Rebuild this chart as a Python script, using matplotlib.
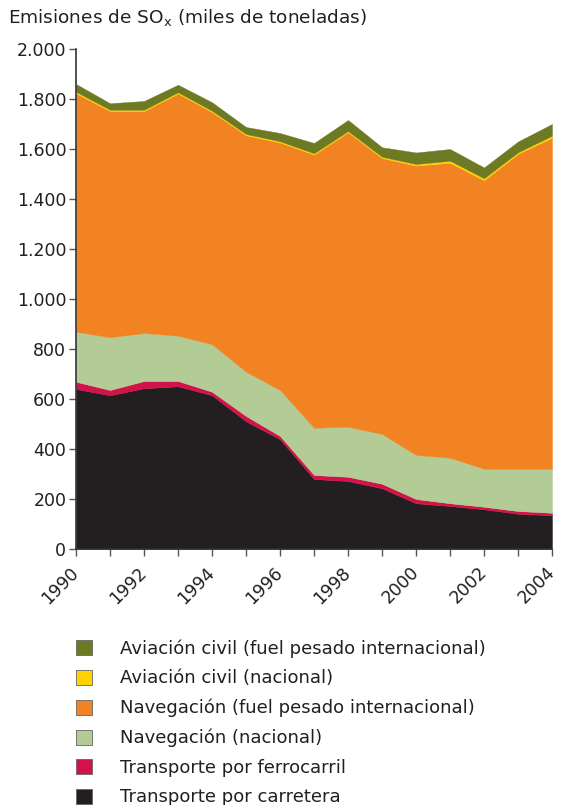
import numpy as np
import matplotlib
matplotlib.use('Agg')
import matplotlib.pyplot as plt
from matplotlib.patches import Patch
from matplotlib.ticker import FuncFormatter

# Emisiones de SOx del transporte, miles de toneladas
years = np.arange(1990, 2005)
carretera = [640, 615, 643, 651, 615, 511, 439, 280, 272, 243, 183, 172, 159, 141, 135]
ferrocarril = [29, 21, 29, 21, 14, 21, 13, 16, 17, 18, 17, 11, 10, 11, 10]
nav_nacional = [200, 211, 192, 181, 190, 177, 184, 189, 200, 199, 176, 182, 152, 168, 175]
nav_internacional = [954, 905, 888, 969, 929, 946, 990, 1093, 1178, 1104, 1158, 1180, 1154, 1261, 1325]
aviacion_nacional = [6, 5, 5, 5, 5, 5, 5, 5, 5, 5, 6, 8, 8, 6, 8]
aviacion_internacional = [31, 26, 35, 30, 34, 28, 33, 41, 44, 38, 46, 47, 43, 43, 47]

labels = [
    'Transporte por carretera',
    'Transporte por ferrocarril',
    'Navegación (nacional)',
    'Navegación (fuel pesado internacional)',
    'Aviación civil (nacional)',
    'Aviación civil (fuel pesado internacional)',
]
colors = ['#231f20', '#d4124a', '#b3cc96', '#f28322', '#ffd200', '#6d7a23']
series = [carretera, ferrocarril, nav_nacional, nav_internacional,
          aviacion_nacional, aviacion_internacional]

fig = plt.figure(figsize=(5.61, 8.05), dpi=100)
ax = fig.add_axes([76 / 561, 1 - 549 / 805, 476 / 561, 500 / 805])

ax.stackplot(years, *series, colors=colors, linewidth=0.3,
             edgecolor='face')

ax.set_xlim(1990, 2004)
ax.set_ylim(0, 2000)
ax.set_yticks(np.arange(0, 2001, 200))
ax.yaxis.set_major_formatter(FuncFormatter(lambda v, p: f'{int(v):,}'.replace(',', '.')))
ax.set_xticks(years)
ax.set_xticklabels([str(y) if y % 2 == 0 else '' for y in years],
                   rotation=45, ha='right', va='center', rotation_mode='anchor')

for s in ['top', 'right']:
    ax.spines[s].set_visible(False)
for s in ['left', 'bottom']:
    ax.spines[s].set_color('#333333')
    ax.spines[s].set_linewidth(1.2)
ax.tick_params(axis='y', labelsize=12.5, length=5, width=1, color='#555555',
               labelcolor='#231f20', pad=2)
ax.tick_params(axis='x', labelsize=12.5, length=5, width=1, color='#555555',
               labelcolor='#231f20', pad=10)

fig.text(8 / 561, 1 - 18 / 805, 'Emisiones de SO$_\\mathregular{x}$ (miles de toneladas)',
         fontsize=13.3, color='#231f20', va='center', ha='left')

handles = [Patch(facecolor=c, edgecolor='#666666', linewidth=0.6) for c in colors]
fig.legend(handles[::-1], labels[::-1], loc='upper left',
           bbox_to_anchor=(69 / 561, 1 - 632 / 805), frameon=False,
           fontsize=13, handlelength=0.9, handleheight=0.9,
           handletextpad=1.55, labelspacing=0.64, borderaxespad=0,
           labelcolor='#231f20')

fig.savefig('out.png', dpi=100)
